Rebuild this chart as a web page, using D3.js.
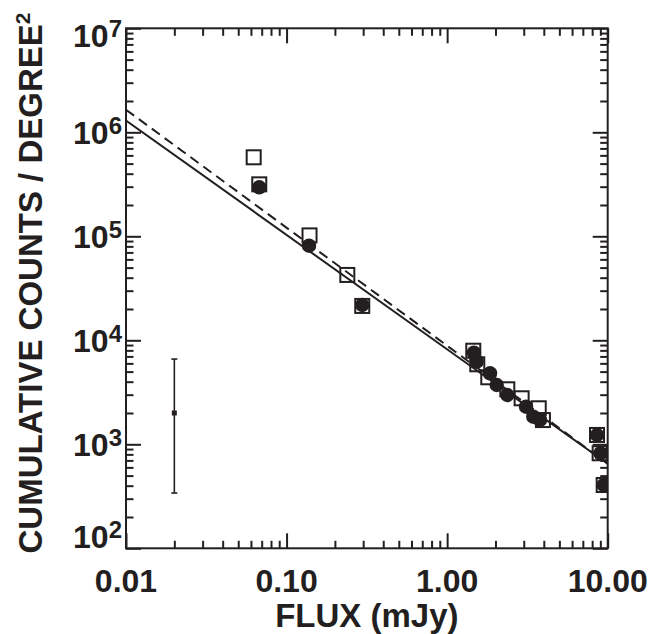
<!DOCTYPE html>
<html>
<head>
<meta charset="utf-8">
<script src="https://cdn.jsdelivr.net/npm/d3@7"></script>
<style>
  html, body { margin: 0; padding: 0; background: #fff; }
  svg { display: block; }
  text { font-family: "Liberation Sans", Arial, Helvetica, sans-serif; font-weight: bold; fill: #231f20; }
</style>
</head>
<body>
<svg id="chart" width="663" height="634"></svg>
<script>
// ---- data ----
const squareFlux   = [0.0624, 0.0676, 0.139, 0.239, 0.296, 1.455, 1.541, 1.804, 2.37, 2.91, 3.72, 3.95, 8.58, 8.91, 9.44];
const squareCounts = [575000, 316000, 102000, 42500, 21400, 7940, 5880, 4410, 3380, 2770, 2220, 1710, 1230, 820, 406];

const circleFlux   = [0.0676, 0.138, 0.296, 1.469, 1.528, 1.849, 2.036, 2.37, 3.10, 3.44, 3.79, 8.58, 9.0, 9.44];
const circleCounts = [296000, 81200, 21850, 7600, 6225, 4816, 3717, 2978, 2300, 1842, 1713, 1228, 819, 406];

const fitFlux          = [0.01, 10];
const solidFitCounts   = [1.30e6, 650];
const dashedFitCounts  = [1.65e6, 650];

const errFlux   = [0.02];
const errCounts = [2000];
const errLow    = [340];
const errHigh   = [6600];

const xTickValues = [0.01, 0.1, 1, 10];
const xTickLabels = ["0.01", "0.10", "1.00", "10.00"];
const yTickExponents = [2, 3, 4, 5, 6, 7];

const xTitle = "FLUX (mJy)";
const yTitle = "CUMULATIVE COUNTS / DEGREE";
const yTitleSup = "2";

// ---- layout ----
const W = 663, H = 634;
const L = 126, R = 607.7, T = 28.3, B = 548.3;
const ink = "#231f20";

const svg = d3.select("#chart");
const x = d3.scaleLog().domain([0.01, 10]).range([L, R]);
const y = d3.scaleLog().domain([1e2, 1e7]).range([B, T]);

// minor tick values
const xMinor = [];
for (let e = -2; e < 1; e++) for (let m = 2; m <= 9; m++) xMinor.push(m * Math.pow(10, e));
const yMinor = [];
for (let e = 2; e < 7; e++) for (let m = 2; m <= 9; m++) yMinor.push(m * Math.pow(10, e));
const yMajor = yTickExponents.map(p => Math.pow(10, p));

function styleAxis(g) {
  g.select(".domain").remove();
  g.selectAll(".tick line").attr("stroke", ink).attr("stroke-width", 2);
  g.selectAll(".tick text").remove();
}

const major = 15, minor = 7.5;
// bottom
svg.append("g").attr("transform", `translate(0,${B})`)
  .call(d3.axisBottom(x).tickValues(xTickValues).tickSizeInner(-major).tickSizeOuter(0)).call(styleAxis);
svg.append("g").attr("transform", `translate(0,${B})`)
  .call(d3.axisBottom(x).tickValues(xMinor).tickSizeInner(-minor).tickSizeOuter(0)).call(styleAxis);
// top
svg.append("g").attr("transform", `translate(0,${T})`)
  .call(d3.axisTop(x).tickValues(xTickValues).tickSizeInner(-major).tickSizeOuter(0)).call(styleAxis);
svg.append("g").attr("transform", `translate(0,${T})`)
  .call(d3.axisTop(x).tickValues(xMinor).tickSizeInner(-minor).tickSizeOuter(0)).call(styleAxis);
// left
svg.append("g").attr("transform", `translate(${L},0)`)
  .call(d3.axisLeft(y).tickValues(yMajor).tickSizeInner(-major).tickSizeOuter(0)).call(styleAxis);
svg.append("g").attr("transform", `translate(${L},0)`)
  .call(d3.axisLeft(y).tickValues(yMinor).tickSizeInner(-minor).tickSizeOuter(0)).call(styleAxis);
// right
svg.append("g").attr("transform", `translate(${R},0)`)
  .call(d3.axisRight(y).tickValues(yMajor).tickSizeInner(-major).tickSizeOuter(0)).call(styleAxis);
svg.append("g").attr("transform", `translate(${R},0)`)
  .call(d3.axisRight(y).tickValues(yMinor).tickSizeInner(-minor).tickSizeOuter(0)).call(styleAxis);

// frame
svg.append("rect").attr("x", L).attr("y", T).attr("width", R - L).attr("height", B - T)
  .attr("fill", "none").attr("stroke", ink).attr("stroke-width", 2);

// clip
svg.append("clipPath").attr("id", "plotclip").append("rect")
  .attr("x", L).attr("y", T).attr("width", R - L).attr("height", B - T);
const plot = svg.append("g").attr("clip-path", "url(#plotclip)");

// fit lines
const line = d3.line().x(d => x(d[0])).y(d => y(d[1]));
plot.append("path").datum(fitFlux.map((f, i) => [f, solidFitCounts[i]]))
  .attr("d", line).attr("fill", "none").attr("stroke", ink).attr("stroke-width", 2);
plot.append("path").datum(fitFlux.map((f, i) => [f, dashedFitCounts[i]]))
  .attr("d", line).attr("fill", "none").attr("stroke", ink).attr("stroke-width", 2)
  .attr("stroke-dasharray", "10,6");

// filled circles
plot.selectAll("circle.pt").data(circleFlux.map((f, i) => [f, circleCounts[i]]))
  .enter().append("circle").attr("class", "pt")
  .attr("cx", d => x(d[0])).attr("cy", d => y(d[1])).attr("r", 7.2).attr("fill", ink);

// open squares
const sq = 14;
plot.selectAll("rect.sq").data(squareFlux.map((f, i) => [f, squareCounts[i]]))
  .enter().append("rect").attr("class", "sq")
  .attr("x", d => x(d[0]) - sq / 2).attr("y", d => y(d[1]) - sq / 2)
  .attr("width", sq).attr("height", sq)
  .attr("fill", "none").attr("stroke", ink).attr("stroke-width", 2);

// error bar
errFlux.forEach((f, i) => {
  const cx = x(f);
  plot.append("line").attr("x1", cx).attr("x2", cx).attr("y1", y(errLow[i])).attr("y2", y(errHigh[i]))
    .attr("stroke", ink).attr("stroke-width", 1.6);
  [errLow[i], errHigh[i]].forEach(v => {
    plot.append("line").attr("x1", cx - 3).attr("x2", cx + 3).attr("y1", y(v)).attr("y2", y(v))
      .attr("stroke", ink).attr("stroke-width", 1.6);
  });
  plot.append("rect").attr("x", cx - 2.5).attr("y", y(errCounts[i]) - 2.5).attr("width", 5).attr("height", 5)
    .attr("fill", ink);
});

// x tick labels
svg.selectAll("text.xl").data(xTickValues).enter().append("text").attr("class", "xl")
  .attr("x", d => x(d)).attr("y", 591.5).attr("text-anchor", "middle")
  .style("font-size", "32px").text((d, i) => xTickLabels[i]);

// y tick labels (10^n), kept inside the frame at the ends
yTickExponents.forEach(p => {
  const base = Math.max(T + 19, Math.min(B, y(Math.pow(10, p)) + 12));
  const t = svg.append("text").attr("x", 122).attr("y", base).attr("text-anchor", "end")
    .style("font-size", "32px");
  t.append("tspan").text("10");
  t.append("tspan").attr("dy", -10).style("font-size", "24px").text(String(p));
});

// axis titles
svg.append("text").attr("x", (L + R) / 2).attr("y", 627).attr("text-anchor", "middle")
  .style("font-size", "33px").text(xTitle);

const yt = svg.append("text").attr("transform", `translate(41.5,${283}) rotate(-90)`)
  .attr("text-anchor", "middle").style("font-size", "33px");
yt.append("tspan").text(yTitle);
yt.append("tspan").attr("dy", -12).style("font-size", "21px").text(yTitleSup);
</script>
</body>
</html>
